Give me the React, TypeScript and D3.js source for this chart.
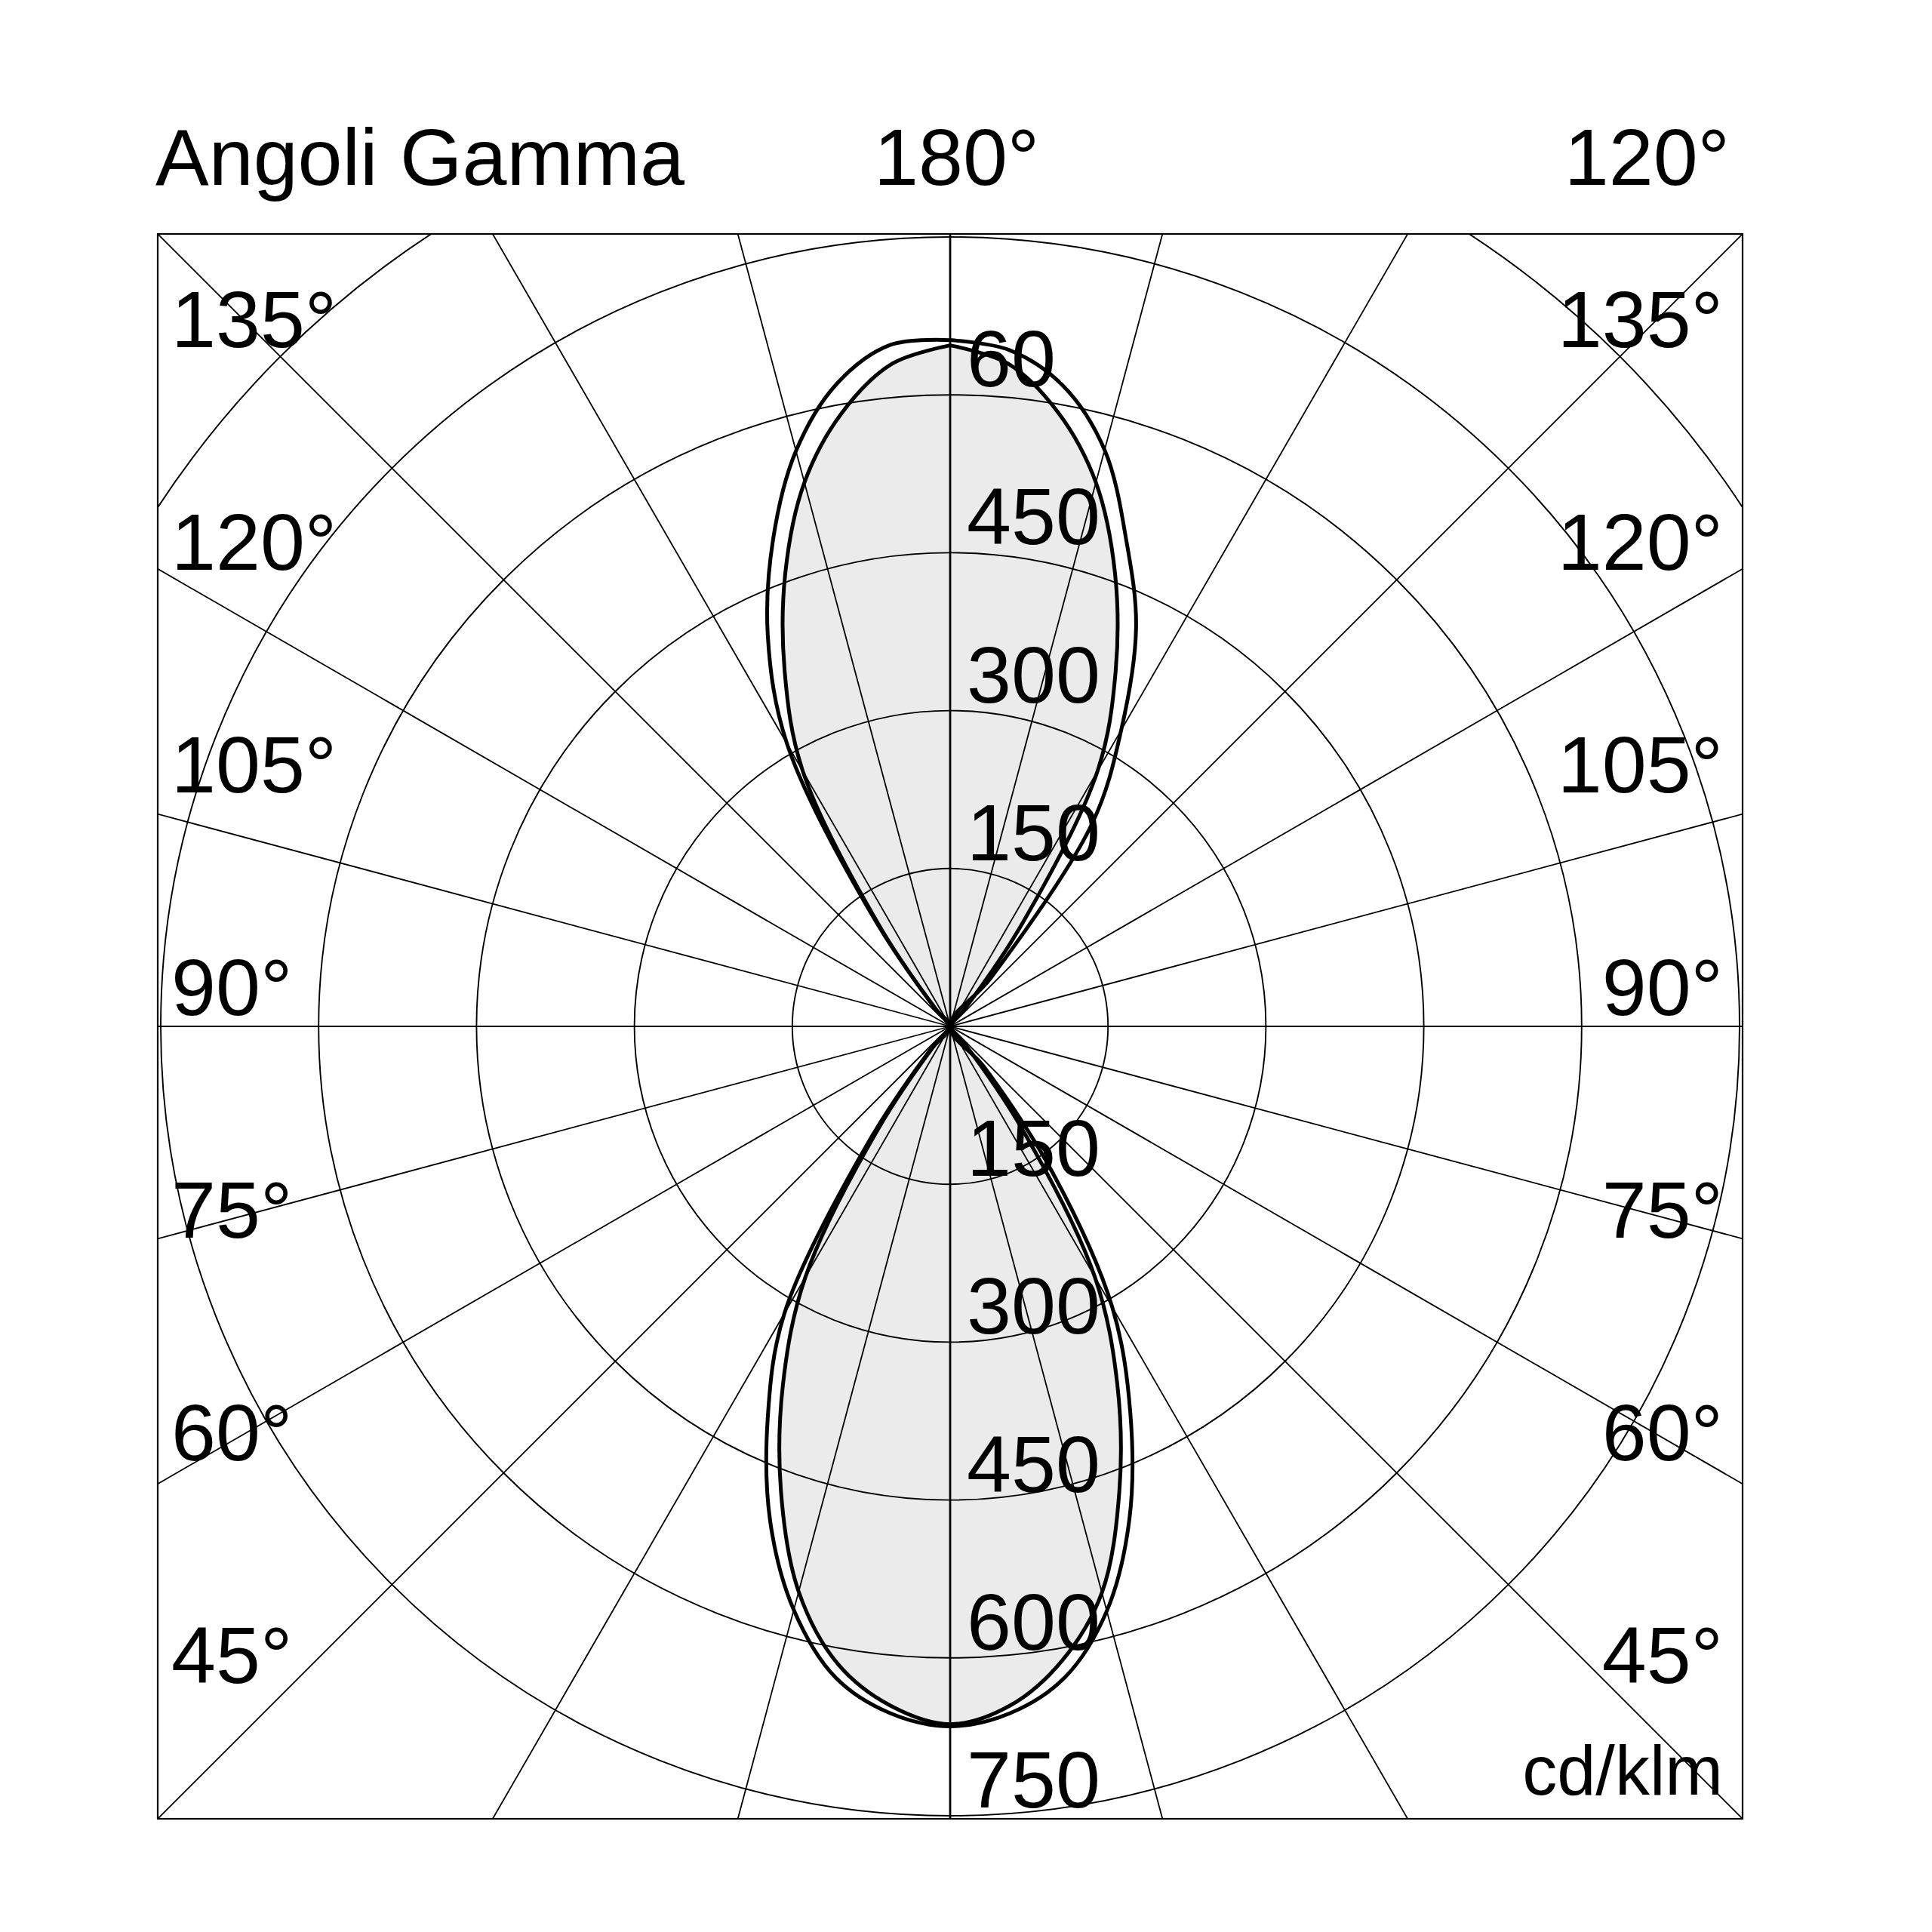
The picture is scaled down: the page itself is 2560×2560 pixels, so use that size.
import React from 'react';
import * as d3 from 'd3';

// ---- Data (cd/klm) ----
const gammaAngles: number[] = d3.range(0, 181, 5); // 0 = down, 180 = up

// Curve A (outer, unfilled)
const curveA_C0: number[] = [665, 655, 628, 575, 498, 405, 308, 170, 50,
  0, 0, 0, 0, 0, 0, 0, 0, 0, 0, 0, 0, 0, 0, 0, 0, 0, 0, 0,
  60, 235, 325, 418, 490, 567, 618, 645, 652];
const curveA_C180: number[] = [665, 655, 628, 574, 500, 410, 315, 140, 30,
  0, 0, 0, 0, 0, 0, 0, 0, 0, 0, 0, 0, 0, 0, 0, 0, 0, 0, 0,
  20, 130, 310, 410, 492, 566, 620, 650, 652];

// Curve B (inner, filled)
const curveB_C0: number[] = [663, 648, 612, 557, 470, 376, 275, 120, 20,
  0, 0, 0, 0, 0, 0, 0, 0, 0, 0, 0, 0, 0, 0, 0, 0, 0, 0, 0,
  20, 120, 280, 372, 458, 535, 592, 632, 647];
const curveB_C180: number[] = [663, 648, 615, 556, 470, 376, 275, 120, 20,
  0, 0, 0, 0, 0, 0, 0, 0, 0, 0, 0, 0, 0, 0, 0, 0, 0, 0, 0,
  20, 120, 280, 372, 458, 535, 592, 632, 647];

const ringValues: number[] = [150, 300, 450, 600, 750];
const upperOnlyRingValues: number[] = [900];
const maxValue = 750;
const upperLabelValues: number[] = [150, 300, 450, 600];
const upperLabelTexts: string[] = ['150', '300', '450', '60'];
const lowerLabelValues: number[] = [150, 300, 450, 600, 750];
const lowerLabelTexts: string[] = ['150', '300', '450', '600', '750'];
const sideAngleLabels: string[] = ['135°', '120°', '105°', '90°', '75°', '60°', '45°'];
const radialStepDeg = 15;
const titleText = 'Angoli Gamma';
const topCenterText = '180°';
const topRightText = '120°';
const unitText = 'cd/klm';

type Pt = [number, number];

function buildLoop(c0: number[], c180: number[]): Pt[] {
  const pts: Pt[] = [];
  gammaAngles.forEach((g, i) => pts.push([Math.PI - (g * Math.PI) / 180, c0[i]]));
  for (let i = gammaAngles.length - 1; i >= 0; i--) {
    const g = gammaAngles[i];
    pts.push([Math.PI + (g * Math.PI) / 180, c180[i]]);
  }
  const out: Pt[] = [];
  for (const p of pts) {
    const last = out[out.length - 1];
    if (last && last[1] === 0 && p[1] === 0) continue;
    out.push(p);
  }
  const f = out[0], l = out[out.length - 1];
  if (Math.abs(Math.cos(f[0]) - Math.cos(l[0])) < 1e-9 && Math.abs(Math.sin(f[0]) - Math.sin(l[0])) < 1e-9 && f[1] === l[1]) out.pop();
  return out;
}

export default function App() {
  const W = 2560, H = 2560;
  const fx = 209, fy = 310, fs = 2100;
  const cx = fx + fs / 2;
  const cy = fy + fs / 2;
  const rScale = d3.scaleLinear().domain([0, maxValue]).range([0, 1046]);

  const lineA = d3.lineRadial<Pt>()
    .angle(d => d[0])
    .radius(d => rScale(d[1]))
    .curve(d3.curveCatmullRomClosed.alpha(0.5));
  const lineB = d3.lineRadial<Pt>()
    .angle(d => d[0])
    .radius(d => rScale(d[1]))
    .curve(d3.curveCatmullRomClosed.alpha(0.5));

  const pathA = lineA(buildLoop(curveA_C0, curveA_C180)) || '';
  const pathB = lineB(buildLoop(curveB_C0, curveB_C180)) || '';

  const radials = d3.range(0, 360, radialStepDeg).filter(a => a % 90 !== 0);
  const font = '"Liberation Sans", Arial, Helvetica, sans-serif';
  const fsz = 106;

  const upperArc = (r: number) => {
    const p = d3.path();
    p.arc(cx, cy, r, Math.PI, 2 * Math.PI);
    return p.toString();
  };

  return (
    <svg width={W} height={H} viewBox={`0 0 ${W} ${H}`}
      style={{ position: 'absolute', left: 0, top: 0, background: '#fff' }}
      fontFamily={font}>
      <defs>
        <clipPath id="frameClip">
          <rect x={fx} y={fy} width={fs} height={fs} />
        </clipPath>
      </defs>
      <rect x={0} y={0} width={W} height={H} fill="#fff" />
      <g clipPath="url(#frameClip)">
        <path d={pathB} transform={`translate(${cx},${cy})`} fill="#ebebeb" stroke="none" />
        {ringValues.map(v => (
          <circle key={v} cx={cx} cy={cy} r={rScale(v)} fill="none" stroke="#000" strokeWidth={1.9} />
        ))}
        {upperOnlyRingValues.map(v => (
          <path key={'u' + v} d={upperArc(rScale(v))} fill="none" stroke="#000" strokeWidth={1.9} />
        ))}
        {radials.map(a => {
          const rad = (a * Math.PI) / 180;
          const L = 3000;
          return (
            <line key={a} x1={cx} y1={cy} x2={cx + L * Math.sin(rad)} y2={cy - L * Math.cos(rad)}
              stroke="#000" strokeWidth={1.8} />
          );
        })}
        <line x1={fx} y1={cy} x2={fx + fs} y2={cy} stroke="#000" strokeWidth={2} />
        <line x1={cx} y1={fy} x2={cx} y2={fy + fs} stroke="#000" strokeWidth={2.8} />
        <path d={pathB} transform={`translate(${cx},${cy})`} fill="none" stroke="#000" strokeWidth={5} strokeLinejoin="round" />
        <path d={pathA} transform={`translate(${cx},${cy})`} fill="none" stroke="#000" strokeWidth={5} strokeLinejoin="round" />
      </g>
      <rect x={fx} y={fy} width={fs} height={fs} fill="none" stroke="#000" strokeWidth={2.2} />

      <text x={206} y={245} fontSize={fsz} fill="#000">{titleText}</text>
      <text x={1158} y={245} fontSize={fsz} fill="#000">{topCenterText}</text>
      <text x={2292} y={245} fontSize={fsz} fill="#000" textAnchor="end">{topRightText}</text>

      {sideAngleLabels.map((t, i) => (
        <text key={'l' + t} x={227} y={460 + i * 295} fontSize={fsz} fill="#000">{t}</text>
      ))}
      {sideAngleLabels.map((t, i) => (
        <text key={'r' + t} x={2283} y={460 + i * 295} fontSize={fsz} fill="#000" textAnchor="end">{t}</text>
      ))}

      {upperLabelValues.map((v, i) => (
        <text key={'u' + v} x={cx + 22} y={cy - rScale(v) - 11} fontSize={fsz} fill="#000">{upperLabelTexts[i]}</text>
      ))}
      {lowerLabelValues.map((v, i) => (
        <text key={'d' + v} x={cx + 22} y={cy + rScale(v) - 11} fontSize={fsz} fill="#000">{lowerLabelTexts[i]}</text>
      ))}

      <text x={2283} y={2378} fontSize={92} fill="#000" textAnchor="end">{unitText}</text>
    </svg>
  );
}
